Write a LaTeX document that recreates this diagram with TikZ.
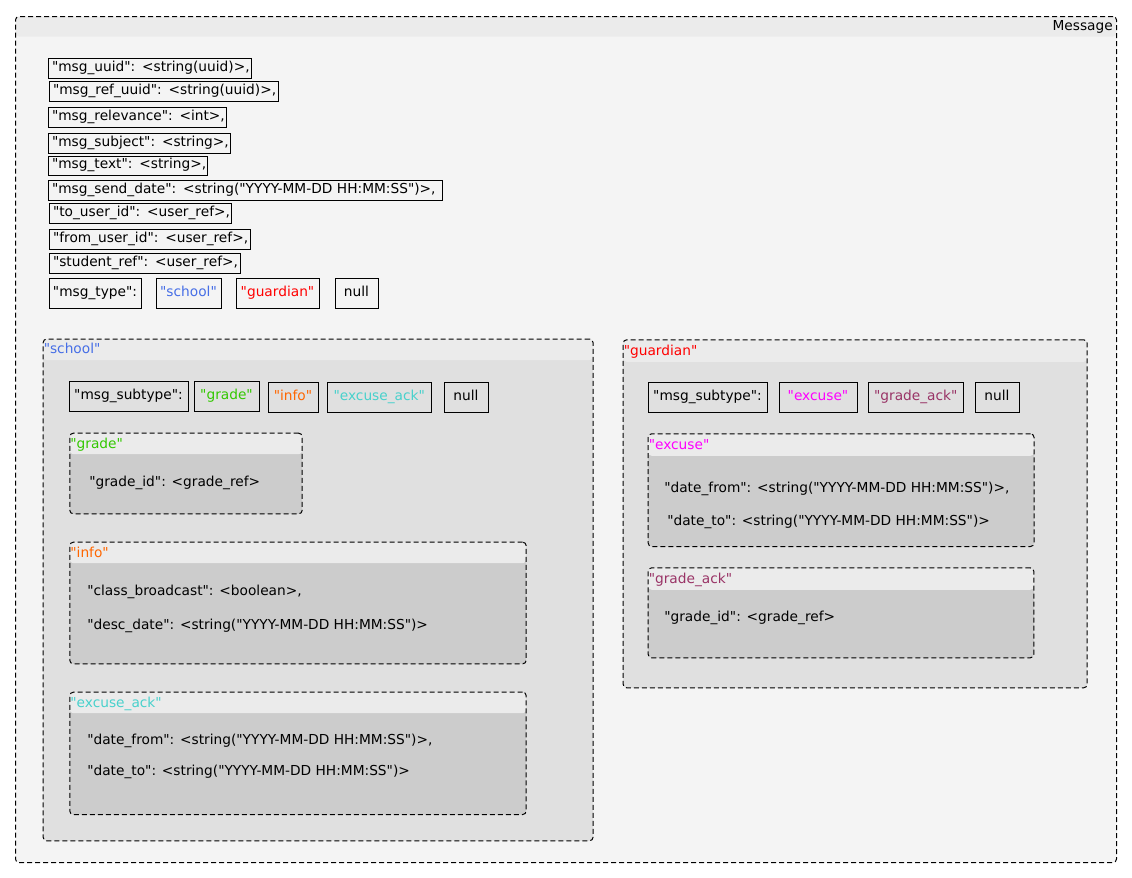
\documentclass[tikz,border=0pt]{standalone}
\usepackage{fontspec}
\newfontfamily\dejavu{DejaVu Sans}

\definecolor{hdrgray}{HTML}{EBEBEB}
\definecolor{outergray}{HTML}{F4F4F4}
\definecolor{midgray}{HTML}{E0E0E0}
\definecolor{innergray}{HTML}{CCCCCC}
\definecolor{schoolc}{RGB}{70,110,230}
\definecolor{guardianc}{RGB}{255,0,0}
\definecolor{gradec}{RGB}{50,200,0}
\definecolor{infoc}{RGB}{255,102,0}
\definecolor{excackc}{RGB}{72,209,204}
\definecolor{excusec}{RGB}{255,0,255}
\definecolor{gradackc}{RGB}{153,51,102}

\def\hdrh{15.75pt}

\tikzset{
  every node/.style={font=\dejavu\fontsize{10.3pt}{12pt}\selectfont,
    text height=7.6pt, text depth=2.4pt},
  field/.style={draw=black, line width=0.75pt, inner xsep=3pt, inner ysep=0pt, align=left},
  choice/.style={draw=black, line width=0.75pt, inner sep=0pt},
  entry/.style={anchor=west, inner sep=0pt},
  grpbox/.style={draw=black, line width=0.75pt, dash pattern=on 3.75pt off 2.25pt,
    rounded corners=2.6pt, anchor=north west, inner sep=0pt,
    path picture={\fill[hdrgray] ([yshift=2pt]path picture bounding box.north west)
      rectangle ([yshift=-\hdrh]path picture bounding box.north east);}},
}

% left-aligned field box: name, x, y, width, height, text
\newcommand\fld[6]{%
  \pgfmathsetmacro\fw{#4*0.75-6}\pgfmathsetmacro\fh{#5*0.75}%
  \node[field, text width=\fw pt, minimum height=\fh pt] (#1) at ({#2+#4/2},{#3+#5/2}) {\mbox{#6}};}
% centred value box: name, x, y, width, height, text
\newcommand\chc[6]{%
  \pgfmathsetmacro\fw{#4*0.75}\pgfmathsetmacro\fh{#5*0.75}%
  \node[choice, minimum width=\fw pt, minimum height=\fh pt] (#1) at ({#2+#4/2},{#3+#5/2}) {#6};}
% dashed group frame with header band: name, x1, y1, x2, y2, body colour
\newcommand\grp[6]{%
  \pgfmathsetmacro\gw{(#4-#2)*0.75}\pgfmathsetmacro\gh{(#5-#3)*0.75}%
  \node[grpbox, fill=#6, minimum width=\gw pt, minimum height=\gh pt] (#1) at (#2,#3) {};}

\begin{document}
\begin{tikzpicture}[x=0.75pt, y=-0.75pt]
\useasboundingbox[fill=white] (0,0) rectangle (1132,878);

% Message
\def\hdrh{15pt}
\grp{message}{15}{16}{1116}{862}{outergray}
\node[anchor=east, inner sep=0pt] (lmessage) at ([xshift=-3pt, yshift=-8.3pt]message.north east) {Message};

\fld{uuid}{48}{58}{203}{20}{"msg\_uuid": <string(uuid)>,}
\fld{refuuid}{49}{81}{229}{20}{"msg\_ref\_uuid": <string(uuid)>,}
\fld{relevance}{48}{107}{178}{20}{"msg\_relevance": <int>,}
\fld{subject}{48}{133}{182}{20}{"msg\_subject": <string>,}
\fld{text}{48}{156}{159}{19}{"msg\_text": <string>,}
\fld{senddate}{48}{180}{394}{20}{"msg\_send\_date": <string("YYYY-MM-DD HH:MM:SS")>,}
\fld{touser}{49}{203}{182}{20}{"to\_user\_id": <user\_ref>,}
\fld{fromuser}{49}{229}{201}{20}{"from\_user\_id": <user\_ref>,}
\fld{student}{49}{253}{191}{20}{"student\_ref": <user\_ref>,}
\chc{msgtype}{49}{278}{92}{30}{"msg\_type":}
\chc{tschool}{156}{278}{65}{30}{\textcolor{schoolc}{"school"}}
\chc{tguardian}{236}{278}{83}{30}{\textcolor{guardianc}{"guardian"}}
\chc{tnull}{335}{278}{43}{30}{null}

% school
\def\hdrh{15.75pt}
\grp{school}{42.7}{338.5}{592.5}{840.3}{midgray}
\node[entry, text=schoolc] (lschool) at ([xshift=0.6pt, yshift=-9pt]school.north west) {"school"};
\chc{ssubtype}{69}{381}{119}{30}{"msg\_subtype":}
\chc{sgrade}{194}{381}{65}{30}{\textcolor{gradec}{"grade"}}
\chc{sinfo}{268}{382}{50}{30}{\textcolor{infoc}{"info"}}
\chc{sexcack}{327}{382}{104.5}{30}{\textcolor{excackc}{"excuse\_ack"}}
\chc{snull}{444}{382}{44}{30}{null}

\grp{grade}{69.3}{432.7}{301.7}{513.3}{innergray}
\node[entry, text=gradec] (lgrade) at ([xshift=0.6pt, yshift=-9pt]grade.north west) {"grade"};
\node[entry] (gradeid) at (89,483) {"grade\_id": <grade\_ref>};

\grp{info}{69.3}{541.7}{525.7}{663.3}{innergray}
\node[entry, text=infoc] (linfo) at ([xshift=0.6pt, yshift=-9pt]info.north west) {"info"};
\node[entry] (broadcast) at (87,592) {"class\_broadcast": <boolean>,};
\node[entry] (descdate) at (87,626) {"desc\_date": <string("YYYY-MM-DD HH:MM:SS")>};

\grp{excack}{69.3}{691.7}{525.7}{814}{innergray}
\node[entry, text=excackc] (lexcack) at ([xshift=0.6pt, yshift=-9pt]excack.north west) {"excuse\_ack"};
\node[entry] (eafrom) at (87,741) {"date\_from": <string("YYYY-MM-DD HH:MM:SS")>,};
\node[entry] (eato) at (87,772) {"date\_to": <string("YYYY-MM-DD HH:MM:SS")>};

% guardian
\def\hdrh{16.5pt}
\grp{guardian}{622.7}{339.3}{1086.7}{687.3}{midgray}
\node[entry, text=guardianc] (lguardian) at ([xshift=0.6pt, yshift=-9.3pt]guardian.north west) {"guardian"};
\chc{gsubtype}{648}{382}{119}{30}{"msg\_subtype":}
\chc{gexcuse}{779}{382}{78}{30}{\textcolor{excusec}{"excuse"}}
\chc{ggradeack}{868}{382}{95.5}{30}{\textcolor{gradackc}{"grade\_ack"}}
\chc{gnull}{975}{382}{44}{30}{null}

\grp{excuse}{647.7}{433.3}{1033.5}{546}{innergray}
\node[entry, text=excusec] (lexcuse) at ([xshift=0.6pt, yshift=-9.3pt]excuse.north west) {"excuse"};
\node[entry] (exfrom) at (664,489) {"date\_from": <string("YYYY-MM-DD HH:MM:SS")>,};
\node[entry] (exto) at (667,522) {"date\_to": <string("YYYY-MM-DD HH:MM:SS")>};

\grp{gradeack}{647.7}{567.3}{1033.3}{657.3}{innergray}
\node[entry, text=gradackc] (lgradeack) at ([xshift=0.6pt, yshift=-9.3pt]gradeack.north west) {"grade\_ack"};
\node[entry] (gagradeid) at (664,618) {"grade\_id": <grade\_ref>};
\end{tikzpicture}
\end{document}
